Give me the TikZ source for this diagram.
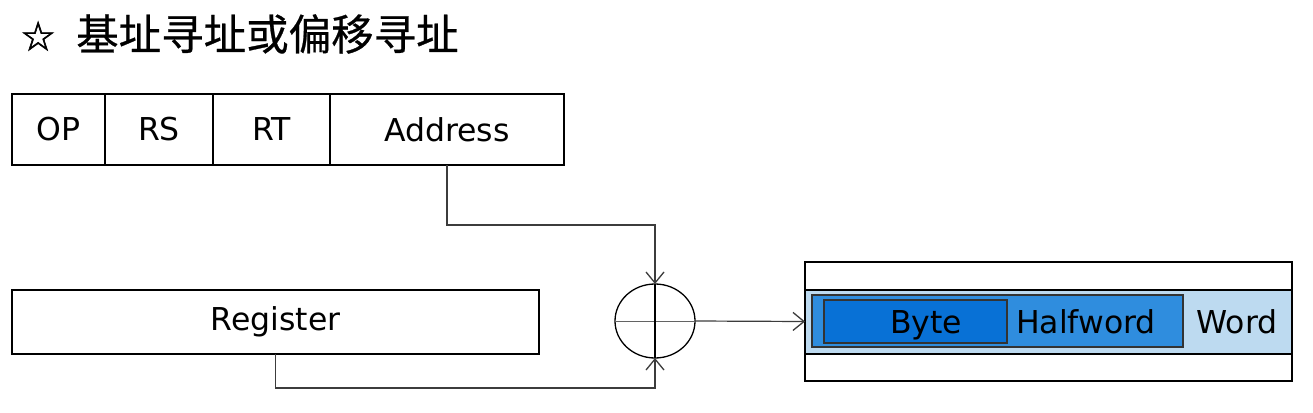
\documentclass[tikz,border=0pt]{standalone}
\usepackage{fontspec}
\setmainfont{DejaVu Sans}
\newfontfamily\cjk[FakeBold=0.6]{Noto Sans CJK SC}
\newfontfamily\symf[FakeBold=1.5]{DejaVu Sans}
\usetikzlibrary{arrows.meta,shapes.geometric}
\definecolor{wordblue}{RGB}{189,218,240}
\definecolor{halfblue}{RGB}{47,141,222}
\definecolor{byteblue}{RGB}{8,113,214}
\definecolor{conn}{RGB}{60,60,60}
\tikzset{
  field/.style={draw=black, line width=1.3pt, inner sep=0pt, outer sep=0pt, anchor=north west, font=\fontsize{31.5}{35}\selectfont},
  conline/.style={draw=conn, line width=1.2pt},
  tip/.style={-{Straight Barb[length=11pt,width=18pt,line width=1.3pt]}},
  lbl/.style={inner sep=0pt, anchor=base, font=\fontsize{31.5}{35}\selectfont},
}
\begin{document}
\begin{tikzpicture}[x=1pt,y=-1pt]
\useasboundingbox (0,0) rectangle (1313,412);
\fill[white] (0,0) rectangle (1313,412);
% title
\node[anchor=west, inner sep=0pt, font=\symf\fontsize{40}{44}\selectfont] (star) at (20,36) {☆};
\node[anchor=west, inner sep=0pt, font=\cjk\fontsize{42.5}{46}\selectfont] (title) at (76,34) {基址寻址或偏移寻址};
% instruction fields
\node[field, minimum width=93, minimum height=71] (op) at (12,94) {OP};
\node[field, minimum width=108, minimum height=71] (rs) at (105,94) {RS};
\node[field, minimum width=117, minimum height=71] (rt) at (213,94) {RT};
\node[field, minimum width=234, minimum height=71] (addr) at (330,94) {Address};
% register
\node[field, minimum width=527, minimum height=64] (reg) at (12,290) {Register};
% adder
\node[ellipse, draw=black, line width=1.3pt, minimum width=80, minimum height=74, inner sep=0pt, outer sep=0pt] (sum) at (655,321) {};
\draw[draw=conn!80, line width=1pt] (sum.west) -- (sum.east);
\draw[draw=black, line width=1.2pt] (sum.north) -- (sum.south);
% memory
\node[draw=black, line width=1.3pt, minimum width=487, minimum height=119, inner sep=0pt, outer sep=0pt, anchor=north west] (mem) at (805,262) {};
\node[draw=black, fill=wordblue, line width=1.3pt, minimum width=487, minimum height=64, inner sep=0pt, outer sep=0pt, anchor=north west] (band) at (805,290) {};
\node[draw=black!80, fill=halfblue, line width=1.3pt, minimum width=371, minimum height=52, inner sep=0pt, outer sep=0pt, anchor=north west] (half) at (812,295) {};
\node[draw=black!80, fill=byteblue, line width=1.3pt, minimum width=183, minimum height=43, inner sep=0pt, outer sep=0pt, anchor=north west] (byte) at (824,300) {};
\node[lbl] (tbyte) at (926,333) {Byte};
\node[lbl] (thalf) at (1086,333) {Halfword};
\node[lbl] (tword) at (1237,333) {Word};
% connectors
\coordinate (c1) at (447,225);
\coordinate (c2) at (275.5,388);
\draw[conline, tip] (addr.south) -- (c1) -| (sum.north);
\draw[conline, tip] (reg.south) -- (c2) -| (sum.south);
\draw[conline, tip] (sum.east) -- (mem.west);
\end{tikzpicture}
\end{document}
